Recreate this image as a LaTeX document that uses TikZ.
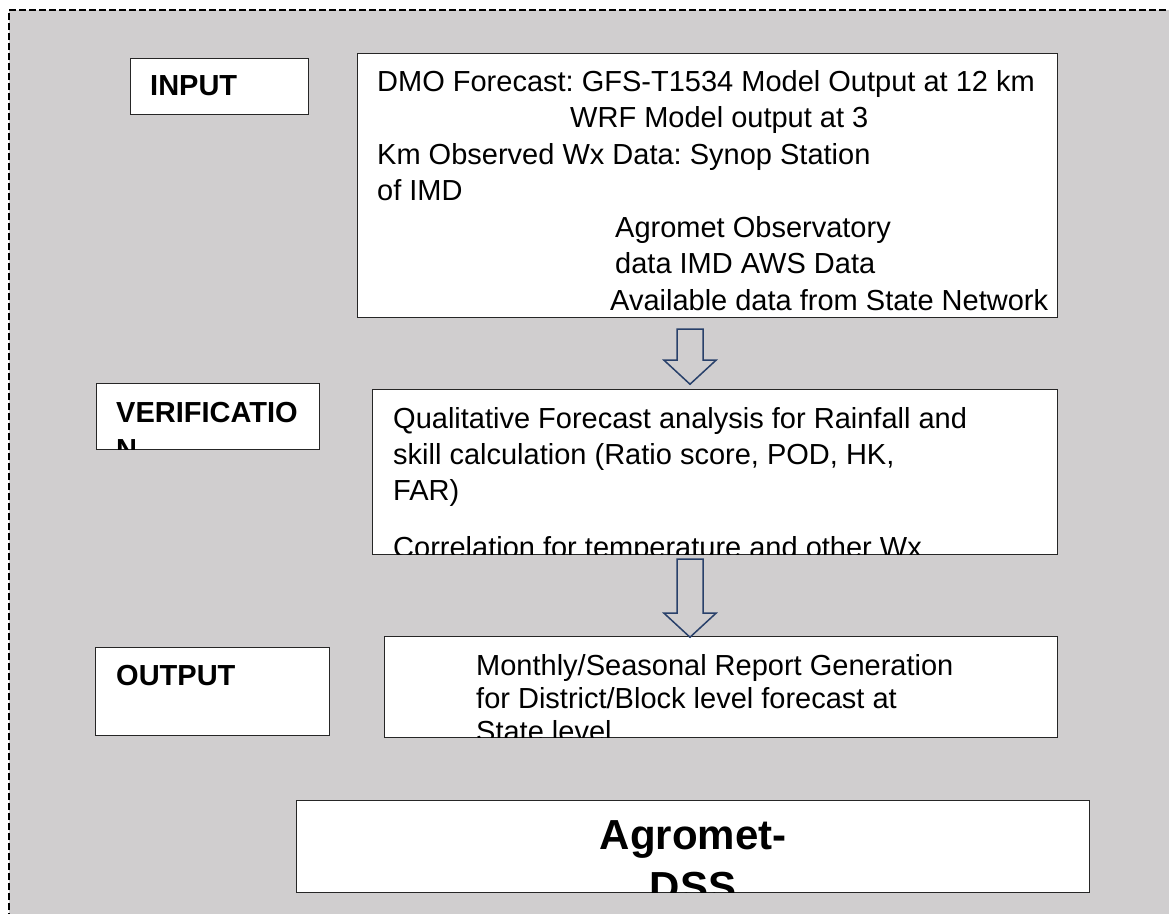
\documentclass[tikz,border=0pt]{standalone}
\usepackage{fontspec}
\setmainfont{Liberation Sans}
\usetikzlibrary{calc}
\definecolor{panelgray}{RGB}{208,206,207}
\definecolor{arrownavy}{RGB}{40,64,106}
\frenchspacing

\begin{document}
\begin{tikzpicture}[x=1pt, y=-1pt,
  box/.style={draw=black!85, line width=1.2pt, fill=white, inner sep=0pt, anchor=north west},
  labeltext/.style={font=\bfseries\fontsize{29}{37}\selectfont, align=left, inner sep=0pt, anchor=north west},
  bodytext/.style={font=\fontsize{29}{36.5}\selectfont, align=left, inner sep=0pt, anchor=north west},
  blockarrow/.style={draw=arrownavy, line width=1.5pt, line join=miter}]
\useasboundingbox (0,0) rectangle (1169,913);
\fill[panelgray] (9,10) rectangle (1200,940);
\draw[line width=1.2pt, dash pattern=on 7pt off 3pt] (9,940) -- (9,10) -- (1200,10);

\node[box, minimum width=178pt, minimum height=56pt] (inlab) at (130,58) {};
\node[box, minimum width=700pt, minimum height=264pt] (intext) at (357,53) {};
\node[box, minimum width=223pt, minimum height=66pt] (verlab) at (96,383) {};
\node[box, minimum width=685pt, minimum height=165pt] (vertext) at (372,389) {};
\node[box, minimum width=234pt, minimum height=88pt] (outlab) at (95,647) {};
\node[box, minimum width=673pt, minimum height=101pt] (outtext) at (384,636) {};
\node[box, minimum width=793pt, minimum height=92pt] (dss) at (296,800) {};

\node[labeltext] (inname) at ($(inlab.north west)+(20,17)$) {INPUT};
\node[bodytext] (inlines) at ($(intext.north west)+(20,17)$)
  {DMO Forecast: GFS-T1534 Model Output at 12 km\\
   \hspace*{193pt}WRF Model output at 3\\
   Km Observed Wx Data: Synop Station\\
   of IMD\\
   \hspace*{238pt}Agromet Observatory\\
   \hspace*{238pt}data IMD AWS Data\\
   \hspace*{233pt}Available data from State Network};
\begin{scope}
\clip ($(verlab.north west)+(1,1)$) rectangle ($(verlab.south east)+(-1,-1)$);
\node[labeltext] (vername) at ($(verlab.north west)+(20,19)$) {VERIFICATIO\\N};
\end{scope}
\begin{scope}
\clip ($(vertext.north west)+(1,1)$) rectangle ($(vertext.south east)+(-1,-1)$);
\node[bodytext, font=\fontsize{29}{36}\selectfont] (verlines) at ($(vertext.north west)+(21,18)$)
  {Qualitative Forecast analysis for Rainfall and\\
   skill calculation (Ratio score, POD, HK,\\
   FAR)\\[21pt]
   Correlation for temperature and other Wx};
\end{scope}
\node[labeltext] (outname) at ($(outlab.north west)+(21,18)$) {OUTPUT};
\begin{scope}
\clip ($(outtext.north west)+(1,1)$) rectangle ($(outtext.south east)+(-1,-1)$);
\node[bodytext, font=\fontsize{29}{33}\selectfont] (outlines) at ($(outtext.north west)+(92,18)$)
  {Monthly/Seasonal Report Generation\\
   for District/Block level forecast at\\
   State level};
\end{scope}
\begin{scope}
\clip ($(dss.north west)+(1,1)$) rectangle ($(dss.south east)+(-1,-1)$);
\node[font=\bfseries\fontsize{42}{52}\selectfont, align=center, inner sep=0pt, anchor=north] (dssname)
  at ($(dss.north)+(0,20)$) {Agromet-\\DSS};
\end{scope}

\coordinate (axis) at (690,0);
\foreach \src/\gap/\len in {intext/11/31, vertext/4/54}
\draw[blockarrow] ($(\src.south -| axis)+(-13,\gap)$) -- ++(26,0) -- ++(0,\len) -- ++(13,0)
  -- ++(-26,24) -- ++(-26,-24) -- ++(13,0) -- cycle;
\end{tikzpicture}
\end{document}
